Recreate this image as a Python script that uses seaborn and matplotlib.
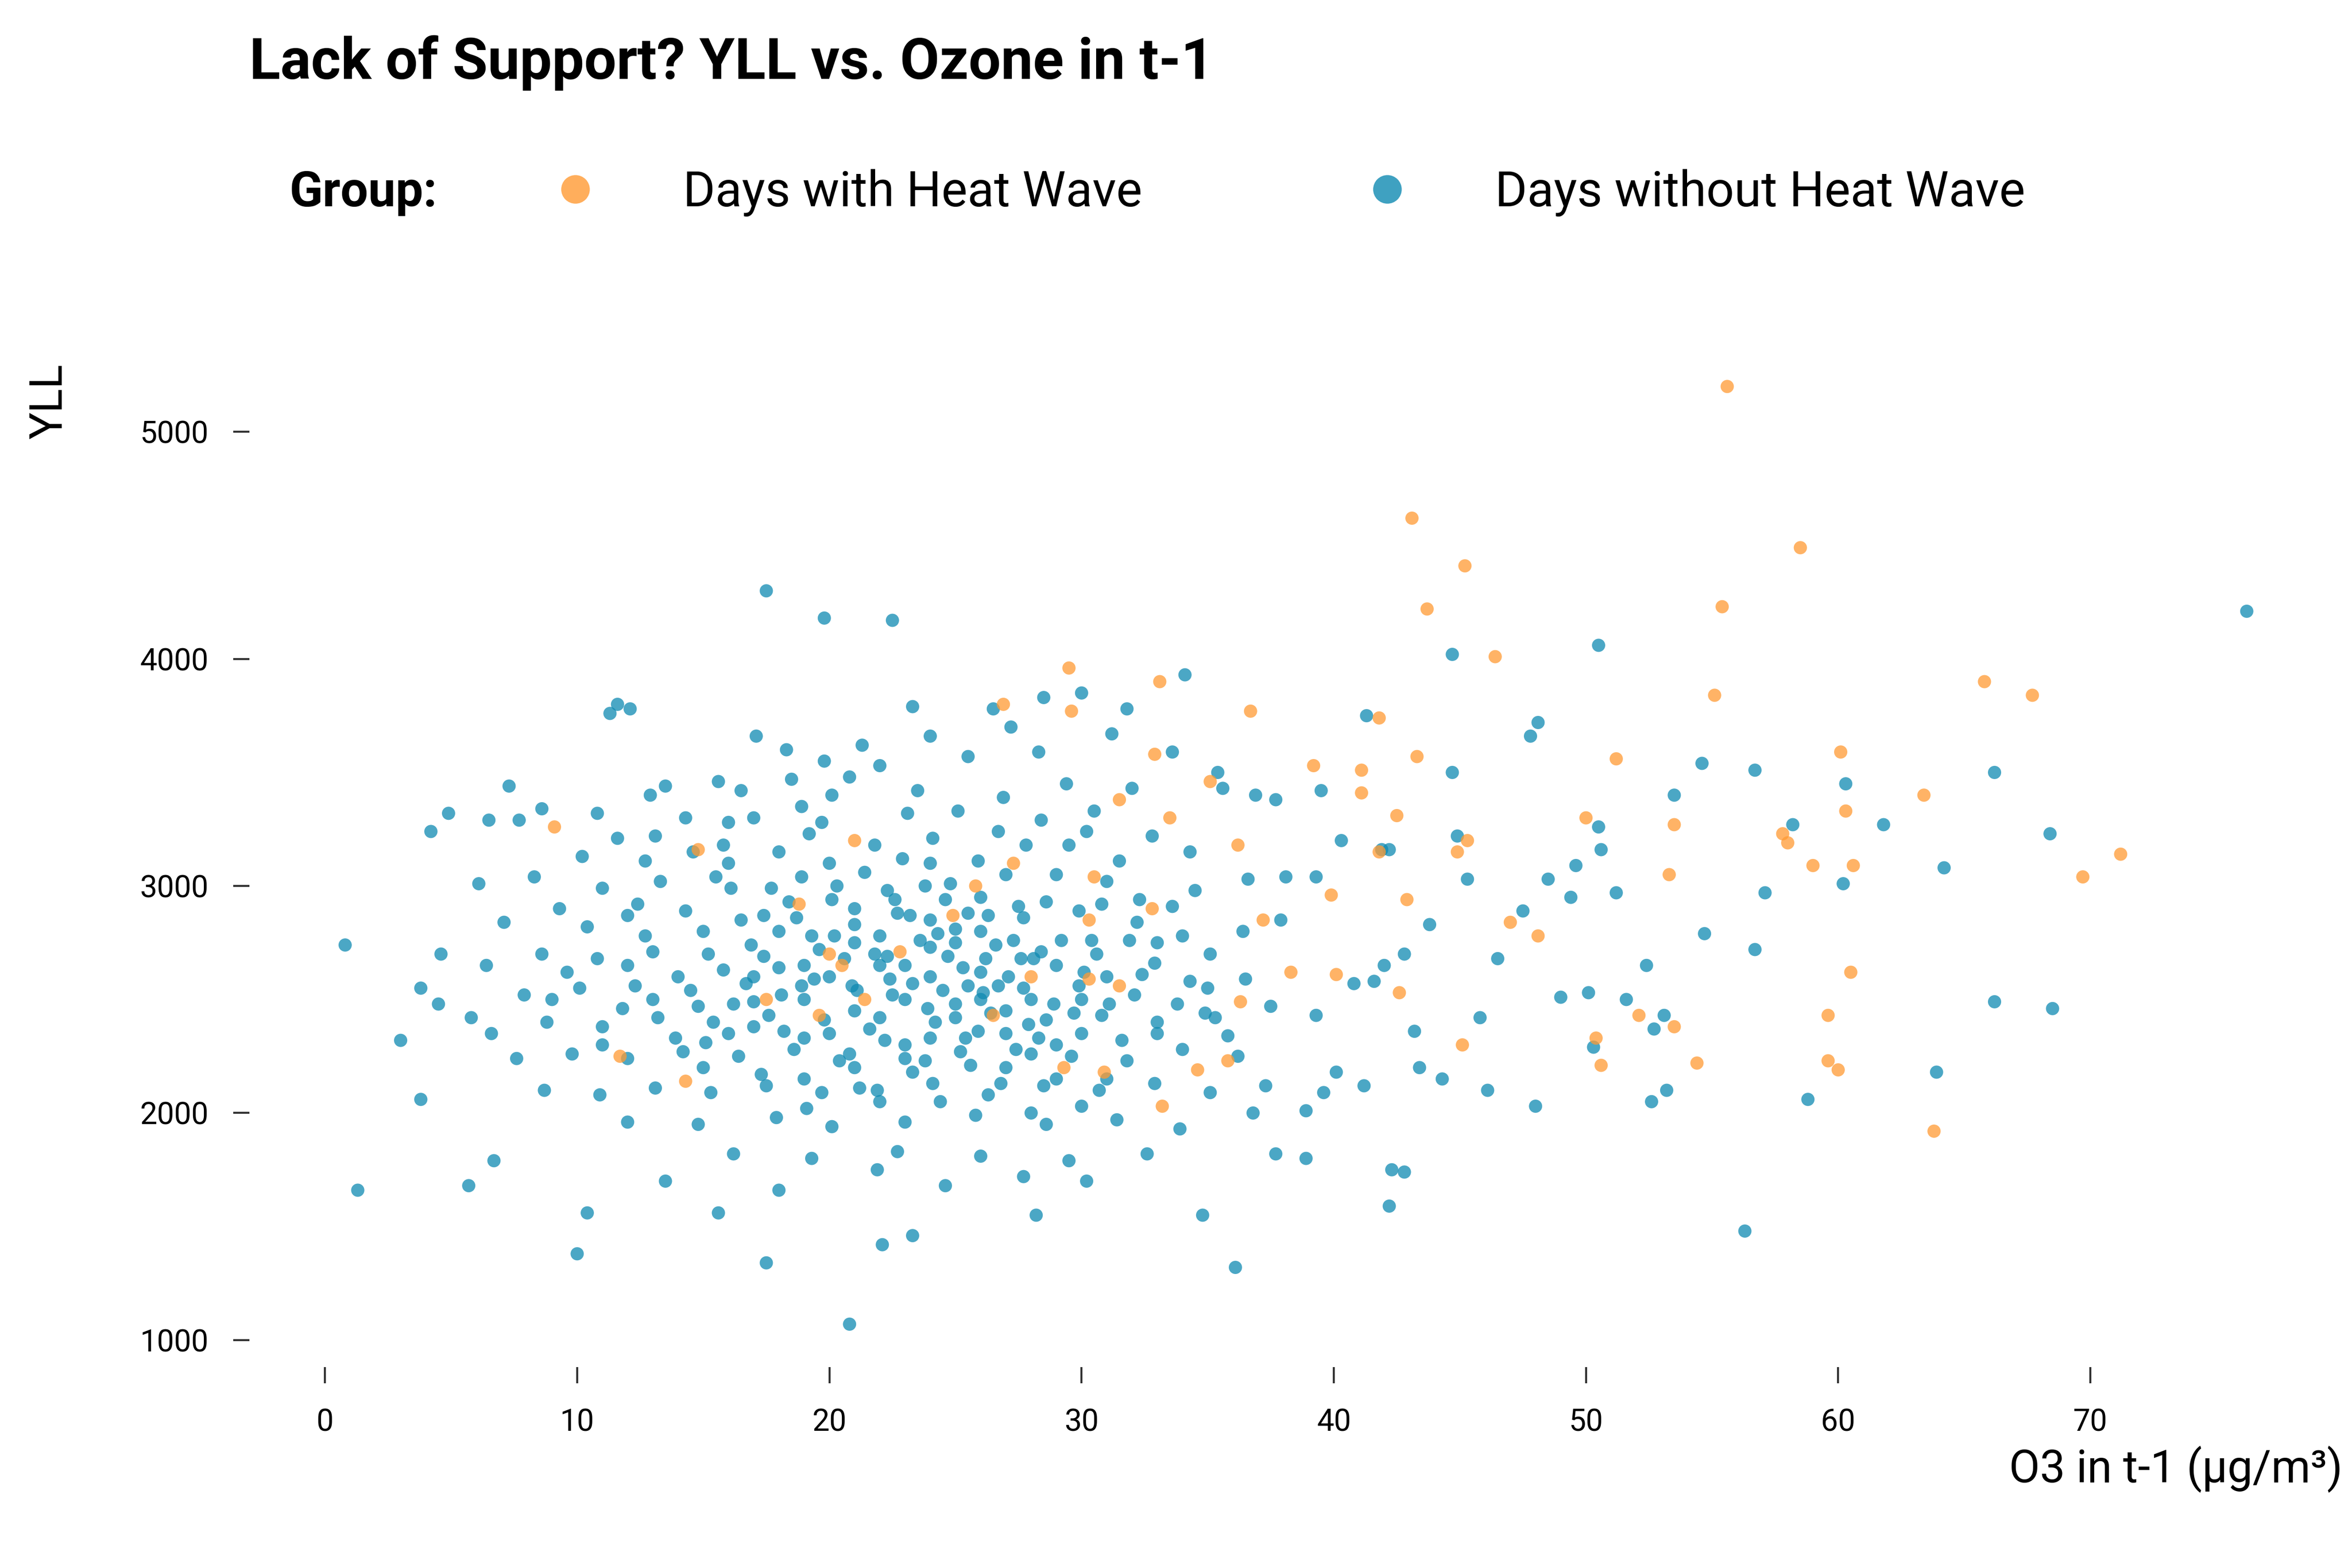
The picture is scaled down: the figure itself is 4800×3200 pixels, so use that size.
import pandas as pd
import matplotlib.pyplot as plt
import seaborn as sns
from matplotlib.lines import Line2D

# Points (O3 in t-1, YLL)
heat_x = [55.6,43.1,58.5,45.2,43.7,55.4,46.4,29.5,33.1,65.8,67.7,55.1,26.9,36.7,29.6,41.8,51.2,60.1,43.3,35.1,
          32.9,39.2,41.1,41.1,63.4,31.5,33.5,50.0,53.5,60.3,42.5,57.8,58.0,45.3,44.9,41.8,9.1,71.2,59.0,60.6,
          69.7,53.3,39.9,42.9,47.0,48.1,32.8,30.5,21.0,14.8,20.0,60.5,40.1,42.6,52.1,53.5,59.6,50.4,45.1,50.6,
          54.4,59.6,60.0,63.8,35.8,33.2,34.6,30.3,31.5,29.3,30.9,28.0,27.3,26.5,20.5,17.5,21.4,11.7,14.3,19.6,
          22.8,18.8,24.9,25.8,30.3,37.2,36.2,38.3,36.3]
heat_y = [5200,4620,4490,4410,4220,4230,4010,3960,3900,3900,3840,3840,3800,3770,3770,3740,3560,3590,3570,3460,
          3580,3530,3510,3410,3400,3380,3300,3300,3270,3330,3310,3230,3190,3200,3150,3150,3260,3140,3090,3090,
          3040,3050,2960,2940,2840,2780,2900,3040,3200,3160,2700,2620,2610,2530,2430,2380,2430,2330,2300,2210,
          2220,2230,2190,1920,2230,2030,2190,2590,2560,2200,2180,2600,3100,2430,2650,2500,2500,2250,2140,2430,
          2710,2920,2870,3000,2850,2850,3180,2620,2490]

nohw_pts = [
    (0.8,2740),(1.3,1660),(3.0,2320),(3.8,2550),(3.8,2060),(4.2,3240),(4.6,2700),(4.9,3320),(5.7,1680),(6.5,3290),
    (6.7,1790),(7.3,3440),(10.0,1380),(10.4,1560),(11.3,3760),(11.6,3800),(12.1,3780),(17.5,4300),(19.8,4180),(22.5,4170),
    (17.5,1340),(20.8,1070),(22.1,1420),(23.3,1460),(28.2,1550),(36.1,1320),(34.8,1550),(56.3,1480),(42.2,1590),(76.2,4210),
    (50.5,4060),(44.7,4020),(48.1,3720),(47.8,3660),(54.6,3540),(56.7,3510),(66.2,3500),(53.5,3400),(57.1,2970),(58.2,3270),
    (60.3,3450),(61.8,3270),(60.2,3010),(64.2,3080),(68.4,3230),(68.5,2460),(66.2,2490),(63.9,2180),(58.8,2060),(56.7,2720),
    (54.7,2790),(52.4,2650),(51.6,2500),(52.7,2370),(53.1,2430),(50.1,2530),(49.0,2510),(50.3,2290),(52.6,2050),(53.2,2100),
    (48.0,2030),(46.1,2100),(45.8,2420),(44.3,2150),(43.4,2200),(42.3,1750),(42.8,1740),(49.6,3090),(50.5,3260),(50.6,3160),
    (49.4,2950),(51.2,2970),(48.5,3030),(47.5,2890),(45.3,3030),(44.9,3220),(46.5,2680),(43.8,2830),(42.0,2650),(41.6,2580),
    (40.8,2570),(39.3,2430),(39.6,2090),(40.1,2180),(41.2,2120),(38.9,1800),(37.7,1820),(36.8,2000),(38.9,2010),(41.9,3160),
    (42.2,3160),(40.3,3200),(41.3,3750),(39.5,3420),(37.7,3380),(44.7,3500),(42.8,2700),(43.2,2360),(34.1,3930),(33.6,3590),
    (35.4,3500),(36.9,3400),(35.6,3430),(38.1,3040),(39.3,3040),
    (17.1,3660),(18.3,3600),(21.3,3620),(24.0,3660),(27.2,3700),(28.5,3830),(23.3,3790),(26.5,3780),(30.0,3850),(31.8,3780),
    (22.0,3530),(19.8,3550),(15.6,3460),(16.5,3420),(12.9,3400),(13.5,3440),(8.6,3340),(7.7,3290),(10.8,3320),(25.5,3570),
    (28.3,3590),(31.2,3670),(32.0,3430),(29.4,3450),(25.1,3330),(23.5,3420),(20.1,3400),(18.9,3350),(17.0,3300),(14.3,3300),
    (11.6,3210),(10.2,3130),(12.7,3110),(15.8,3180),(19.2,3230),(21.8,3180),(24.1,3210),(26.7,3240),(28.4,3290),(30.5,3330),
    (32.8,3220),(34.3,3150),(36.6,3030),(34.5,2980),(31.0,3020),(27.0,3050),(24.8,3010),(22.3,2980),(20.3,3000),(17.7,2990),
    (15.5,3040),(13.3,3020),(11.0,2990),(8.3,3040),(6.1,3010),(7.1,2840),(9.3,2900),(12.0,2870),(14.3,2890),(16.5,2850),
    (18.7,2860),(21.0,2900),(23.2,2870),(25.5,2880),(27.7,2860),(29.9,2890),(32.2,2840),(34.0,2780),(36.4,2800),(37.9,2850),
    (35.1,2700),(32.9,2660),(30.6,2700),(28.4,2710),(26.2,2680),(24.0,2730),(21.8,2700),(19.6,2720),(17.4,2690),(15.2,2700),
    (13.0,2710),(10.8,2680),(8.6,2700),(6.4,2650),(4.5,2480),(5.8,2420),(7.9,2520),(10.1,2550),(12.3,2560),(14.5,2540),
    (16.7,2570),(18.9,2560),(21.1,2540),(23.3,2570),(25.5,2560),(27.7,2550),(29.9,2560),(32.1,2520),(34.3,2580),(36.5,2590),
    (37.5,2470),(35.3,2420),(33.0,2400),(30.8,2430),(28.6,2410),(26.4,2440),(24.2,2400),(22.0,2420),(19.8,2410),(17.6,2430),
    (15.4,2400),(13.2,2420),(11.0,2380),(8.8,2400),(6.6,2350),(7.6,2240),(9.8,2260),(12.0,2240),(14.2,2270),(16.4,2250),
    (18.6,2280),(20.8,2260),(23.0,2240),(25.2,2270),(27.4,2280),(29.6,2250),(31.8,2230),(34.0,2280),(36.2,2250),(37.3,2120),
    (35.1,2090),(32.9,2130),(30.7,2100),(28.5,2120),(26.3,2080),(24.1,2130),(21.9,2100),(19.7,2090),(17.5,2120),(15.3,2090),
    (13.1,2110),(10.9,2080),(8.7,2100),(12.0,1960),(14.8,1950),(17.9,1980),(20.1,1940),(23.0,1960),(25.8,1990),(28.6,1950),
    (31.4,1970),(33.9,1930),(16.2,1820),(19.3,1800),(22.7,1830),(26.0,1810),(29.5,1790),(32.6,1820),(13.5,1700),(18.0,1660),
    (21.9,1750),(24.6,1680),(27.7,1720),(30.2,1700),(15.6,1560),
    (20,2600),(22,2650),(24,2600),(26,2620),(28,2500),(21,2450),(23,2500),(25,2480),(27,2350),(19,2500),
    (17,2600),(15,2800),(18,2800),(22,2780),(26,2800),(29,2650),(31,2600),(24,2330),(20,2350),(16,2350),
    (14,2600),(12,2650),(25,2750),(23,2300),(21,2200),(27,2200),(30,2350),(19,2150),(22,2050),(26,2950),
    (29,3050),(16,3100),(20,3100),(24,3100),(18,3150),(13,2500),(11,2300),(9,2500),(28,2000),(31,2150),
    (33,2350),(35,2550),(33,2750),(27,2450),(19,2650),(24,2850),(17,2380),(15,2200),(23,2650),(25,2420),
    (21,2830),(29,2300),(30,2500),
    (15.8,2630),(16.9,2740),(18.1,2520),(18.4,2930),(19.3,2780),(20.6,2680),(20.9,2560),(21.6,2370),(22.4,2590),(22.7,2880),
    (23.6,2760),(23.9,2460),(24.5,2540),(24.7,2690),(25.3,2640),(25.9,2360),(26.1,2530),(26.6,2740),(27.1,2600),(27.5,2910),
    (28.1,2680),(28.3,2330),(28.9,2480),(29.2,2760),(29.7,2440),(30.1,2620),(30.4,2760),(31.1,2480),(31.6,2320),(32.4,2610),
    (17.3,2170),(18.2,2360),(19.1,2020),(20.4,2230),(21.2,2110),(22.2,2320),(23.3,2180),(24.4,2050),(25.6,2210),(26.8,2130),
    (27.9,2390),(29.0,2150),(30.0,2030),(16.1,2990),(17.4,2870),(18.9,3040),(20.1,2940),(21.4,3060),(22.6,2940),(23.8,3000),
    (25.0,2810),(26.3,2870),(27.3,2760),(28.6,2930),(29.5,3180),(30.8,2920),(31.9,2760),(14.8,2470),(13.9,2330),(12.7,2780),
    (11.8,2460),(10.4,2820),(9.6,2620),(12.4,2920),(15.1,2310),(16.2,2480),(14.6,3150),(13.1,3220),(19.7,3280),(22.9,3120),
    (25.9,3110),(27.8,3180),(31.5,3110),(33.6,2910),(34.9,2440),(35.8,2340),(33.8,2480),(32.3,2940),(30.2,3240),(26.9,3390),
    (23.1,3320),(20.8,3480),(18.5,3470),(16.0,3280),(24.6,2940),(21.0,2750),(19.4,2590),(27.6,2680),(26.0,2500),(22.5,2520),
    (20.2,2780),(23.8,2230),(25.4,2330),(28.0,2260),(18.0,2640),(17.0,2490),(24.3,2790),(26.7,2560),(22.3,2690),(19.0,2330)]
nohw_x = [p[0] for p in nohw_pts]
nohw_y = [p[1] for p in nohw_pts]

groups = ["Days with Heat Wave", "Days without Heat Wave"]
colors = {"Days with Heat Wave": "#ff9a33", "Days without Heat Wave": "#0f8ab2"}

df = pd.concat([
    pd.DataFrame({"o3": nohw_x, "yll": nohw_y, "group": groups[1]}),
    pd.DataFrame({"o3": heat_x, "yll": heat_y, "group": groups[0]}),
])

sns.set_style("white")
plt.rcParams["font.family"] = ["Roboto", "DejaVu Sans"]
plt.rcParams["text.color"] = "black"
plt.rcParams["axes.labelcolor"] = "black"
plt.rcParams["xtick.color"] = "black"
plt.rcParams["ytick.color"] = "black"

fig = plt.figure(figsize=(16, 32 / 3), dpi=300)
ax = fig.add_axes([0.106, 0.128, 0.89, 0.64])
sns.scatterplot(data=df, x="o3", y="yll", hue="group", palette=colors,
                s=42, alpha=0.75, edgecolor="none", legend=False, ax=ax)

ax.set_xlim(-3, 80)
ax.set_ylim(880, 5300)
ax.set_xticks(range(0, 71, 10))
ax.set_yticks([1000, 2000, 3000, 4000, 5000])
for s in ax.spines.values():
    s.set_visible(False)
ax.tick_params(axis="both", length=8, width=1, color="#333333", labelsize=15, pad=12, bottom=True, left=True)
ax.set_xlabel("O3 in t-1 (μg/m³)", fontsize=22, loc="right")
ax.set_ylabel("YLL", fontsize=22, loc="top")
ax.yaxis.set_label_coords(-0.085, 1.0)

fig.text(0.106, 0.96, "Lack of Support? YLL vs. Ozone in t-1", fontsize=28, fontweight="bold", va="center")
fig.text(0.123, 0.877, "Group:", fontsize=24, fontweight="bold", va="center")
handles = [Line2D([0], [0], marker="o", ls="", markersize=14, markeredgewidth=0,
                  color=colors[g], alpha=0.8) for g in groups]
fig.legend(handles, groups, loc="center left", bbox_to_anchor=(0.205, 0.877), ncol=2,
           frameon=False, fontsize=24, handletextpad=1.2, columnspacing=4.0)

fig.savefig("out.png", dpi=300)
